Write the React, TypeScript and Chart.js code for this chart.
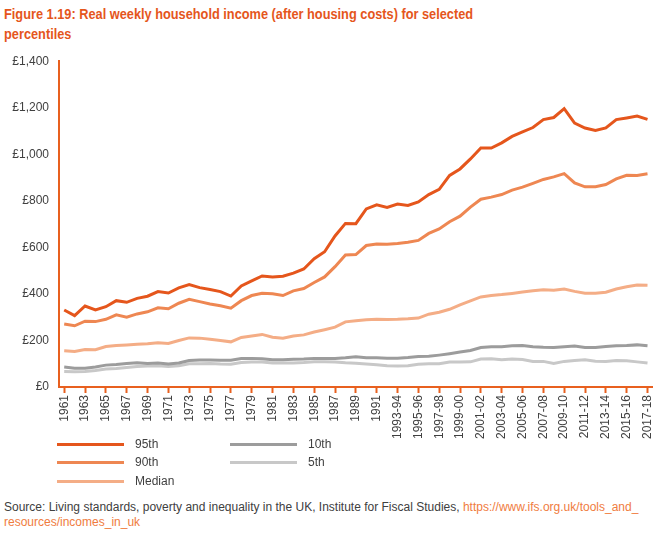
import React, { useEffect, useRef } from "react";
import { Chart, registerables } from "chart.js";

Chart.register(...registerables);

const categories: string[] = [
  "1961", "1962", "1963", "1964", "1965", "1966", "1967", "1968", "1969", "1970",
  "1971", "1972", "1973", "1974", "1975", "1976", "1977", "1978", "1979", "1980",
  "1981", "1982", "1983", "1984", "1985", "1986", "1987", "1988", "1989", "1990",
  "1991", "1992", "1993-94", "1994-95", "1995-96", "1996-97", "1997-98", "1998-99",
  "1999-00", "2000-01", "2001-02", "2002-03", "2003-04", "2004-05", "2005-06",
  "2006-07", "2007-08", "2008-09", "2009-10", "2010-11", "2011-12", "2012-13",
  "2013-14", "2014-15", "2015-16", "2016-17", "2017-18",
];

const p95: number[] = [
  331, 307, 348, 331, 345, 371, 364, 381, 390, 410,
  404, 426, 440, 427, 419, 410, 391, 434, 456, 477,
  473, 476, 489, 507, 551, 581, 649, 703, 702, 765,
  783, 772, 786, 780, 795, 827, 849, 909, 937, 980,
  1027, 1027, 1049, 1077, 1096, 1115, 1149, 1158, 1196, 1134,
  1113, 1102, 1113, 1149, 1156, 1164, 1150,
];

const p90: number[] = [
  271, 263, 283, 281, 291, 310, 300, 314, 323, 340,
  336, 360, 377, 367, 357, 349, 339, 371, 393, 403,
  401, 393, 413, 423, 449, 473, 517, 567, 569, 608,
  614, 613, 617, 622, 630, 660, 679, 710, 734, 773,
  807, 816, 827, 846, 859, 875, 892, 903, 917, 877,
  860, 861, 870, 894, 910, 909, 916,
];

const median: number[] = [
  156, 153, 161, 160, 174, 178, 181, 184, 186, 190,
  187, 200, 211, 210, 205, 200, 194, 213, 219, 226,
  214, 210, 219, 224, 236, 246, 257, 280, 285, 289,
  291, 290, 291, 293, 296, 313, 321, 334, 353, 370,
  387, 393, 397, 402, 408, 414, 418, 416, 421, 411,
  403, 403, 407, 421, 431, 438, 437,
];

const p10: number[] = [
  86, 81, 81, 86, 94, 97, 101, 104, 101, 103,
  99, 103, 114, 116, 116, 115, 115, 122, 123, 121,
  117, 117, 119, 120, 123, 123, 123, 126, 130, 126,
  126, 124, 124, 127, 131, 132, 137, 143, 150, 157,
  170, 173, 173, 177, 178, 173, 171, 170, 173, 176,
  170, 170, 174, 177, 178, 181, 177,
];

const p5: number[] = [
  67, 66, 67, 71, 77, 80, 84, 88, 90, 91,
  88, 91, 100, 100, 101, 99, 98, 105, 107, 107,
  103, 103, 103, 105, 108, 108, 107, 104, 102, 99,
  96, 91, 90, 91, 98, 100, 100, 107, 107, 108,
  120, 121, 117, 120, 118, 110, 110, 101, 110, 114,
  117, 111, 110, 114, 113, 108, 103,
];

const seriesNames: string[] = ["95th", "90th", "Median", "10th", "5th"];
const seriesColors: string[] = ["#E5561C", "#EE8752", "#F4AD86", "#9C9C9C", "#C8C8C8"];
const seriesData: number[][] = [p95, p90, median, p10, p5];

const yTicks: number[] = [0, 200, 400, 600, 800, 1000, 1200, 1400];

const AXIS = "#E8601F";
const FONT = "'Liberation Sans', Arial, Helvetica, sans-serif";
const TEXT = "#404040";

export default function App() {
  const ref = useRef<HTMLCanvasElement | null>(null);

  useEffect(() => {
    document.body.style.margin = "0";
    const canvas = ref.current;
    if (!canvas) return;
    const chart = new Chart(canvas, {
      type: "line",
      data: {
        labels: categories,
        datasets: seriesNames.map((name, k) => ({
          label: name,
          data: seriesData[k],
          borderColor: seriesColors[k],
          backgroundColor: seriesColors[k],
          borderWidth: 3,
          pointRadius: 0,
          tension: 0,
          fill: false,
        })),
      },
      options: {
        responsive: false,
        animation: false,
        maintainAspectRatio: false,
        layout: { autoPadding: false, padding: { left: 0, right: 10, top: 11, bottom: 0 } },
        plugins: {
          legend: { display: false },
          tooltip: { enabled: false },
          title: { display: false },
        },
        scales: {
          x: {
            type: "category",
            offset: true,
            border: { display: true, color: AXIS, width: 2 },
            grid: {
              display: true,
              drawOnChartArea: false,
              drawTicks: true,
              tickLength: 6,
              tickWidth: 2,
              tickColor: (ctx: any) => (ctx.index % 2 === 0 ? AXIS : "rgba(0,0,0,0)"),
            },
            ticks: {
              autoSkip: false,
              maxRotation: 90,
              minRotation: 90,
              padding: 2,
              color: TEXT,
              font: { family: FONT, size: 12 },
              callback: (_v: any, i: number) => (i % 2 === 0 ? categories[i] : ""),
            },
            afterFit: (scale: any) => {
              scale.height = 58;
            },
          },
          y: {
            min: 0,
            max: 1400,
            border: { display: true, color: AXIS, width: 2 },
            grid: { display: true, drawOnChartArea: false, drawTicks: false },
            afterBuildTicks: (scale: any) => {
              scale.ticks = yTicks.map((v) => ({ value: v }));
            },
            ticks: {
              padding: 10,
              color: TEXT,
              font: { family: FONT, size: 12 },
              callback: (v: any) => "£" + Number(v).toLocaleString("en-GB"),
            },
            afterFit: (scale: any) => {
              scale.width = 59;
            },
          },
        },
      },
    });
    return () => chart.destroy();
  }, []);

  const legendRows = [
    { k: 0, x: 57, y: 444 },
    { k: 1, x: 57, y: 462 },
    { k: 2, x: 57, y: 481 },
    { k: 3, x: 230, y: 444 },
    { k: 4, x: 230, y: 462 },
  ];

  return (
    <div style={{ position: "absolute", left: 0, top: 0, width: 664, height: 535, background: "#fff", overflow: "hidden", fontFamily: FONT }}>
      <div style={{ position: "absolute", left: 4, top: 4, color: "#E5561C", fontWeight: "bold", fontSize: 15.5, lineHeight: "20px", whiteSpace: "nowrap", transform: "scaleX(0.824)", transformOrigin: "left top" }}>
        <div>Figure 1.19: Real weekly household income (after housing costs) for selected</div>
        <div>percentiles</div>
      </div>
      <canvas ref={ref} width={664} height={401} style={{ position: "absolute", left: 0, top: 44, width: 664, height: 401 }} />
      {legendRows.map((r) => (
        <div key={r.k}>
          <div style={{ position: "absolute", left: r.x, top: r.y - 1.5, width: 67, height: 3, background: seriesColors[r.k] }} />
          <div style={{ position: "absolute", left: r.x + 78, top: r.y - 8, fontSize: 12, lineHeight: "16px", color: TEXT, whiteSpace: "nowrap" }}>
            {seriesNames[r.k]}
          </div>
        </div>
      ))}
      <div style={{ position: "absolute", left: 4, top: 500, fontSize: 12, lineHeight: "15px", color: TEXT, whiteSpace: "nowrap" }}>
        <div>
          Source: Living standards, poverty and inequality in the UK, Institute for Fiscal Studies,{" "}
          <span style={{ color: "#F07C3E" }}>https://www.ifs.org.uk/tools_and_</span>
        </div>
        <div style={{ color: "#F07C3E" }}>resources/incomes_in_uk</div>
      </div>
    </div>
  );
}
